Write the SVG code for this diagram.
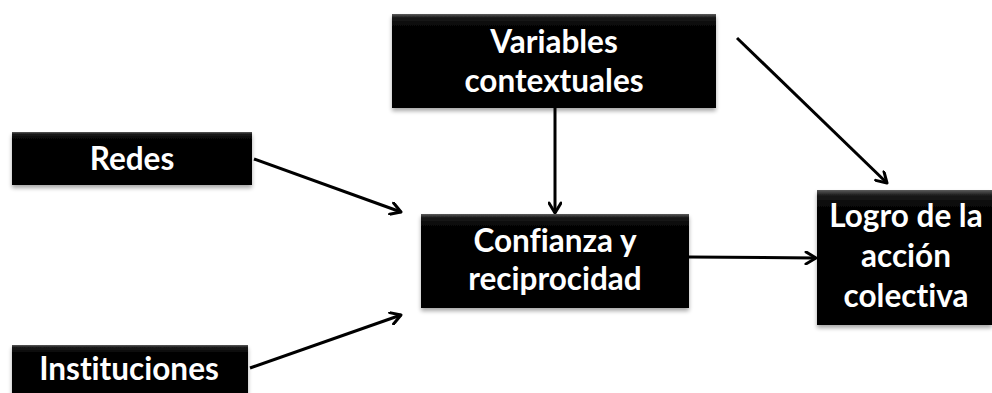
<svg xmlns="http://www.w3.org/2000/svg" width="992" height="393" viewBox="0 0 992 393">
  <defs>
    <linearGradient id="boxg" x1="0" y1="0" x2="0" y2="1">
      <stop offset="0" stop-color="#5a5a5a"/>
      <stop offset="0.04" stop-color="#1a1a1a"/>
      <stop offset="0.15" stop-color="#000"/>
      <stop offset="1" stop-color="#000"/>
    </linearGradient>
    <filter id="sh" x="-5%" y="-5%" width="110%" height="125%">
      <feGaussianBlur in="SourceAlpha" stdDeviation="2"/>
      <feOffset dx="0" dy="3" result="b"/>
      <feComponentTransfer><feFuncA type="linear" slope="0.35"/></feComponentTransfer>
      <feMerge><feMergeNode/><feMergeNode in="SourceGraphic"/></feMerge>
    </filter>
    <marker id="arr" viewBox="0 0 14 14" refX="12" refY="7" markerWidth="14" markerHeight="14" markerUnits="userSpaceOnUse" orient="auto">
      <path d="M2,1 L12,7 L2,13" fill="none" stroke="#000" stroke-width="3" stroke-linecap="round" stroke-linejoin="round"/>
    </marker>
  </defs>
  <style>
    .box { fill: url(#boxg); filter: url(#sh); }
    .lbl { font-family: Lato, "Liberation Sans", sans-serif; font-weight: 700; font-size: 31.5px; fill: #fff; text-anchor: middle; font-variant-ligatures: none; font-feature-settings: "liga" 0, "dlig" 0; }
    .con { stroke: #000; stroke-width: 3; fill: none; marker-end: url(#arr); }
  </style>
  <rect width="992" height="393" fill="#fff"/>
  <g id="connectors">
    <line class="con" x1="254" y1="159" x2="401" y2="212"/>
    <line class="con" x1="250" y1="368" x2="401" y2="315"/>
    <line class="con" x1="555" y1="108" x2="555" y2="213"/>
    <line class="con" x1="737" y1="38" x2="887" y2="183"/>
    <line class="con" x1="689" y1="257" x2="816" y2="258"/>
  </g>
  <g id="node-variables">
    <rect class="box" x="392" y="14" width="324" height="94"/>
    <text class="lbl" x="554" y="53">Variables</text>
    <text class="lbl" x="554" y="92">contextuales</text>
  </g>
  <g id="node-redes">
    <rect class="box" x="12" y="132" width="240" height="53"/>
    <text class="lbl" x="132" y="170">Redes</text>
  </g>
  <g id="node-confianza">
    <rect class="box" x="421" y="214" width="268" height="94"/>
    <text class="lbl" x="555" y="252">Confianza y</text>
    <text class="lbl" x="555" y="290">reciprocidad</text>
  </g>
  <g id="node-logro">
    <rect class="box" x="817" y="190" width="175" height="135"/>
    <text class="lbl" x="906" y="227">Logro de la</text>
    <text class="lbl" x="906" y="267">acción</text>
    <text class="lbl" x="906" y="307">colectiva</text>
  </g>
  <g id="node-instituciones">
    <rect class="box" x="12" y="345" width="236" height="60"/>
    <text class="lbl" x="129" y="380">Instituciones</text>
  </g>
</svg>
